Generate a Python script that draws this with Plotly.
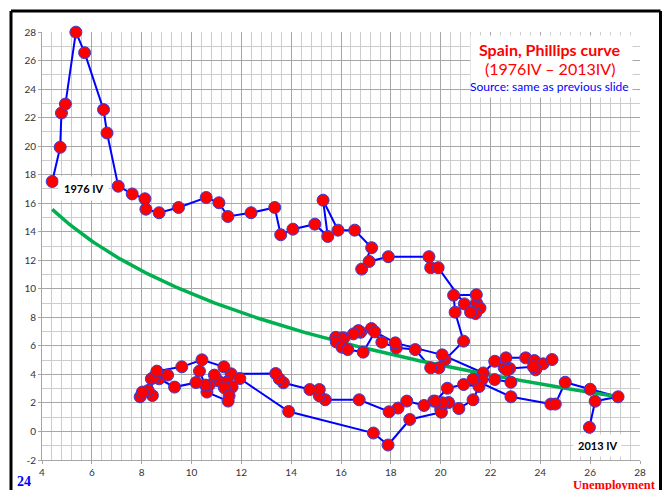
import numpy as np
import plotly.graph_objects as go

# ---------------- data ----------------
# Quarterly path, 1976 IV -> 2013 IV : unemployment rate (%) and inflation (%)
unemployment = [
    # 1976IV - 1987II
    4.41, 4.73, 4.78, 4.94, 5.36, 5.71, 6.47, 6.61, 7.06, 7.62, 8.13, 8.17, 8.70, 9.48,
    10.59, 11.10, 11.46, 12.39, 13.34, 13.58, 14.07, 14.95, 15.47, 15.28, 15.88, 16.55,
    17.23, 16.83, 17.13, 17.90, 19.53, 19.60, 19.90, 20.95, 21.44, 21.58, 21.40, 21.20,
    21.43, 20.52, 20.58, 20.92,
    # 1987III - 1992
    20.18, 19.93, 19.60, 18.98, 18.22, 17.64, 17.22, 16.79, 16.70, 16.50, 16.12, 16.02,
    15.79, 15.81, 16.04, 16.27, 16.89, 17.36, 18.18, 20.06,
    # 1993 - 1995
    21.71, 22.17, 22.62, 23.41, 23.76, 24.11, 24.47, 23.81, 23.72, 22.77, 22.55, 22.67,
    # 1996 - 2000
    22.82, 22.17, 21.66, 21.30, 20.73, 20.32, 20.00, 19.72, 19.33, 18.64, 18.29, 17.93,
    16.73, 15.37, 15.13, 15.13, 14.75, 13.69, 13.52, 13.38,
    # 2001 - 2008III
    11.59, 11.07, 10.92, 11.44, 11.63, 11.32, 11.51, 11.47, 10.62, 10.71, 10.55, 10.32,
    10.18, 9.32, 8.70, 8.39, 8.43, 8.26, 7.94, 8.03, 8.53, 9.04, 8.61, 9.61, 10.42,
    11.30, 11.94,
    # 2008IV - 2013IV
    13.90, 17.30, 17.89, 18.76, 20.03, 20.07, 19.79, 20.27, 20.92, 21.54, 21.30, 22.82,
    24.42, 24.60, 25.00, 26.00, 27.12, 26.20, 25.97,
]
inflation = [
    # 1976IV - 1987II
    17.52, 19.92, 22.32, 22.95, 27.99, 26.55, 22.56, 20.92, 17.19, 16.65, 16.31, 15.58,
    15.33, 15.70, 16.40, 16.03, 15.07, 15.33, 15.70, 13.79, 14.18, 14.53, 13.67, 16.21,
    14.11, 14.11, 12.88, 11.38, 11.92, 12.25, 12.25, 11.48, 11.48, 8.94, 9.00, 8.66,
    8.26, 8.36, 9.58, 9.55, 8.36, 6.33,
    # 1987III - 1992
    5.04, 4.46, 4.46, 5.74, 5.86, 6.26, 7.21, 6.95, 7.07, 6.84, 6.56, 6.56,
    6.60, 6.28, 5.90, 5.74, 5.56, 6.98, 6.21, 5.37,
    # 1993 - 1995
    4.10, 4.92, 5.16, 5.16, 4.97, 4.74, 5.04, 4.32, 4.53, 4.41, 4.46, 4.30,
    # 1996 - 2000
    3.45, 3.64, 3.64, 2.22, 1.61, 2.03, 1.54, 2.13, 1.82, 2.13, 1.64, 1.38,
    2.22, 2.22, 2.50, 2.94, 2.94, 3.41, 3.69, 4.06,
    # 2001 - 2008III
    4.04, 3.55, 3.95, 3.43, 3.11, 3.06, 2.50, 2.13, 2.76, 3.25, 3.25, 4.23,
    3.43, 3.11, 3.69, 3.69, 2.52, 2.87, 2.43, 2.76, 3.88, 3.95, 4.23, 4.53, 5.02,
    4.53, 3.71,
    # 2008IV - 2013IV
    1.40, -0.11, -0.95, 0.84, 1.35, 2.01, 2.12, 3.03, 3.29, 3.15, 3.66, 2.43,
    1.92, 1.92, 3.45, 2.96, 2.43, 2.12, 0.29,
]

# logarithmic trend line  y = intercept + slope * ln(x)
trend_intercept = 26.3
trend_slope = -7.23

x_ticks = [4, 6, 8, 10, 12, 14, 16, 18, 20, 22, 24, 26, 28]
y_ticks = [-2, 0, 2, 4, 6, 8, 10, 12, 14, 16, 18, 20, 22, 24, 26, 28]

title_lines = ["Spain, Phillips curve", "(1976IV \u2013 2013IV)", "Source: same as previous slide"]
start_label = "1976 IV"
end_label = "2013 IV"
slide_number = "24"
x_label = "Unemployment"

# ---------------- trend curve over the data range ----------------
xt = np.linspace(min(unemployment), max(unemployment), 200)
yt = trend_intercept + trend_slope * np.log(xt)

# ---------------- figure ----------------
W, H = 667, 490
ML, MR, MT, MB = 42, 27, 32, 28
PW, PH = W - ML - MR, H - MT - MB


def xp(px):
    return (px - ML) / PW


def yp(py):
    return (H - MB - py) / PH


fig = go.Figure()
fig.add_trace(go.Scatter(x=unemployment, y=inflation, mode="lines",
                         line=dict(color="#0000ff", width=2), hoverinfo="skip",
                         showlegend=False))
fig.add_trace(go.Scatter(x=xt, y=yt, mode="lines",
                         line=dict(color="#00b050", width=3.5), hoverinfo="skip",
                         showlegend=False))
fig.add_trace(go.Scatter(x=unemployment, y=inflation, mode="markers", cliponaxis=False,
                         marker=dict(color="#ff0000", size=12,
                                     line=dict(color="#3b3bd6", width=1)),
                         showlegend=False))

axis_common = dict(
    showgrid=True, gridcolor="#a6a6a6", gridwidth=1,
    zeroline=False, showline=True, linecolor="#a6a6a6", linewidth=1,
    ticks="outside", ticklen=3, tickcolor="#a6a6a6",
    tickfont=dict(family="Lato", size=10, color="#333333"),
)

fig.update_xaxes(range=[4, 28], tickvals=x_ticks, ticktext=[str(v) for v in x_ticks],
                 minor=dict(dtick=0.4, tick0=4, showgrid=True, gridcolor="#cccccc", gridwidth=1),
                 **axis_common)
fig.update_yaxes(range=[-2, 28], tickvals=y_ticks, ticktext=[str(v) for v in y_ticks],
                 minor=dict(dtick=1, tick0=0, showgrid=True, gridcolor="#cccccc", gridwidth=1),
                 **axis_common)

# slide frame: three paper-referenced lines (bottom edge lies below the page)
frame_left, frame_right, frame_top, frame_bottom = 11, 660.5, 11, 500
shapes = []
for (x0, y0, x1, y1) in [
    (frame_left, frame_top, frame_right, frame_top),
    (frame_left, frame_top, frame_left, frame_bottom),
    (frame_right, frame_top, frame_right, frame_bottom),
]:
    shapes.append(dict(type="line", xref="paper", yref="paper",
                       x0=xp(x0), y0=yp(y0), x1=xp(x1), y1=yp(y1),
                       line=dict(color="black", width=3), layer="above"))

annotations = [
    # white panel behind the title block (annotation box sits above the grid)
    dict(text=" ", x=xp(551.5), y=yp(66.5), width=161, height=61, bgcolor="white",
         borderpad=0, font=dict(size=10)),
    dict(text="<b>%s</b>" % title_lines[0], x=xp(549.5), y=yp(49.5), font=dict(family="Lato", size=16, color="#ff0000")),
    dict(text=title_lines[1], x=xp(550), y=yp(69), font=dict(family="Lato", size=16, color="#ff0000")),
    dict(text=title_lines[2], x=xp(549.5), y=yp(86.7), font=dict(family="Lato", size=12, color="#0000ff")),
    dict(text="<b>%s</b>" % start_label, x=xp(83), y=yp(189.5), font=dict(family="Lato", size=11, color="black"),
         bgcolor="white", borderpad=5),
    dict(text="<b>%s</b>" % end_label, x=xp(597), y=yp(447.5), font=dict(family="Lato", size=11, color="black"),
         bgcolor="white", borderpad=4),
    dict(text="<b>%s</b>" % slide_number, x=xp(24), y=yp(484), font=dict(family="Liberation Serif", size=14, color="#0000ff")),
    dict(text="<b>%s</b>" % x_label, x=xp(614), y=yp(487.5), font=dict(family="Liberation Serif", size=12.5, color="#ff0000")),
]
for an in annotations:
    an.update(xref="paper", yref="paper", showarrow=False, xanchor="center", yanchor="middle")

fig.update_layout(
    width=W, height=H,
    margin=dict(l=ML, r=MR, t=MT, b=MB),
    paper_bgcolor="white", plot_bgcolor="white",
    shapes=shapes, annotations=annotations,
    showlegend=False,
)

fig.write_html("out.html", config={"displayModeBar": False},
               post_script="document.body.style.margin='0px';")
